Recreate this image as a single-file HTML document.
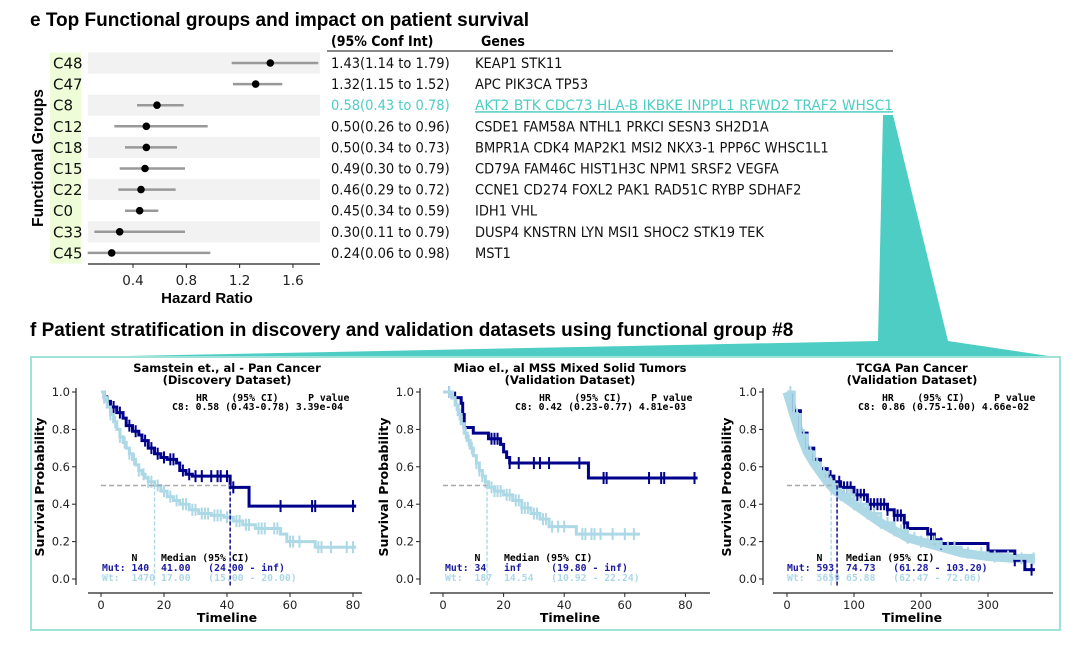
<!DOCTYPE html>
<html><head><meta charset="utf-8">
<style>
html,body{margin:0;padding:0;background:#fff;}
svg{display:block;}
.t{font-family:"Liberation Sans",sans-serif;}
.c{font-family:"DejaVu Sans Condensed","DejaVu Sans",sans-serif;font-stretch:condensed;}
.d{font-family:"DejaVu Sans",sans-serif;}
.m{font-family:"DejaVu Sans Mono","Liberation Mono",monospace;font-weight:bold;white-space:pre;}
</style></head>
<body>
<svg id="fig" width="1080" height="645" viewBox="0 0 1080 645" xmlns="http://www.w3.org/2000/svg">
<text class="t" x="30" y="26" font-size="19" font-weight="bold">e Top Functional groups and impact on patient survival</text>
<text class="t" x="30" y="336" font-size="19" font-weight="bold">f Patient stratification in discovery and validation datasets using functional group #8</text>
<polygon points="883,115 893,115 948,341 1062,358 30,358 878,341" fill="#4ecdc4"/>
<rect x="31" y="357" width="1029" height="273" fill="#fff" stroke="#9fe3d8" stroke-width="2"/>
<g id="forest"></g>
<g id="table"></g>
<g id="km1"></g>
<g id="km2"></g>
<g id="km3"></g>
</svg>
<script>
const groups=["C48","C47","C8","C12","C18","C15","C22","C0","C33","C45"];
const hr=[1.43,1.32,0.58,0.50,0.50,0.49,0.46,0.45,0.30,0.24];
const lo=[1.14,1.15,0.43,0.26,0.34,0.30,0.29,0.34,0.11,0.06];
const hi=[1.79,1.52,0.78,0.96,0.73,0.79,0.72,0.59,0.79,0.98];
const genes=["KEAP1 STK11","APC PIK3CA TP53","AKT2 BTK CDC73 HLA-B IKBKE INPPL1 RFWD2 TRAF2 WHSC1","CSDE1 FAM58A NTHL1 PRKCI SESN3 SH2D1A","BMPR1A CDK4 MAP2K1 MSI2 NKX3-1 PPP6C WHSC1L1","CD79A FAM46C HIST1H3C NPM1 SRSF2 VEGFA","CCNE1 CD274 FOXL2 PAK1 RAD51C RYBP SDHAF2","IDH1 VHL","DUSP4 KNSTRN LYN MSI1 SHOC2 STK19 TEK","MST1"];
const hrTicks=[0.4,0.8,1.2,1.6];

const k1MutT=[0,1,2,3,5,7,8,10,12,13,15,17,19,21,24,25,27,29,41,47,81];
const k1MutS=[1,0.97,0.95,0.92,0.89,0.86,0.82,0.79,0.77,0.74,0.70,0.67,0.65,0.64,0.62,0.58,0.56,0.55,0.49,0.39,0.39];
const k1MutC=[2,4,6,9,11,14,16,18,20,22,23,26,28,30,32,35,37,38,40,42,57,67,68,80];
const k1WtT=[0,1,2,3,4,5,6,7,8,9,10,11,12,13,14,15,17,19,21,23,25,28,31,35,39,42,45,49,57,59,68,81];
const k1WtS=[1,0.97,0.92,0.88,0.84,0.80,0.76,0.73,0.70,0.67,0.64,0.61,0.58,0.56,0.54,0.52,0.50,0.47,0.44,0.42,0.40,0.37,0.35,0.34,0.33,0.31,0.29,0.27,0.24,0.20,0.17,0.17];
const k1WtC=[1,3,4.5,6,7.5,9,10.5,12,13.5,15,16,18,20,22,24,26,27,29,30,32,33,34,36,37,38,40,41,43,44,46,47,50,51,52,55,56,60,61,63,69,70,73,78,80];

const k2MutT=[0,3,6,6.5,7,10,15,19,20,21,22,48,84];
const k2MutS=[1,0.97,0.94,0.88,0.81,0.78,0.75,0.72,0.68,0.65,0.62,0.54,0.54];
const k2MutC=[2,4,16,17,18,22,25,30,32,35,45,53,54,68,72,73,83];
const k2WtT=[0,3,4,5,6,7,8,9,10,11,12,13,14,15,17,20,23,26,29,32,35,44,65];
const k2WtS=[1,0.97,0.93,0.88,0.83,0.78,0.74,0.70,0.66,0.62,0.58,0.55,0.52,0.49,0.47,0.45,0.42,0.38,0.35,0.32,0.28,0.24,0.24];
const k2WtC=[2,4.5,5.5,7.5,8.5,9.5,11,12,13,14,16,17,18,19,21,22,24,25,26,27,28,30,31,33,34,36,38,40,46,47,49,50,52,56,60,63];

const k3MutT=[0,10,20,30,40,50,60,70,80,100,120,150,160,175,180,210,220,230,300,340,355,370];
const k3MutS=[1,0.90,0.78,0.70,0.64,0.59,0.55,0.52,0.49,0.45,0.40,0.37,0.34,0.30,0.27,0.24,0.21,0.19,0.15,0.10,0.05,0.05];
const k3MutC=[60,65,70,78,85,90,95,100,105,110,115,120,125,130,135,140,145,150,160,165,170,175,180,215,220,230,340,365];
const k3WtT=[0,10,20,30,40,50,60,70,80,100,120,140,160,180,200,230,260,300,340,370];
const k3WtS=[1,0.88,0.77,0.68,0.62,0.57,0.52,0.48,0.45,0.40,0.35,0.30,0.26,0.22,0.20,0.17,0.14,0.12,0.11,0.11];
const k3WtC=[5,10,15,20,25,30,35,40,45,50,55,60,65,70,75,80,85,90,95,100,110,120,130,140,150,160,170,180,190,200,210,220,240,250,270,290,310,330,350,368];

const NS="http://www.w3.org/2000/svg";
function mk(parent,tag,attrs,text){const e=document.createElementNS(NS,tag);for(const k in attrs)e.setAttribute(k,attrs[k]);if(text!==undefined)e.textContent=text;parent.appendChild(e);return e;}

(function(){
  const g=document.getElementById('forest');
  const x=v=>133+(v-0.4)*133.3;
  const y=i=>63+i*21.1;
  mk(g,'rect',{x:50,y:52.5,width:31,height:211,fill:'#eefcd8'});
  groups.forEach((c,i)=>{
    if(i%2===0){const b=mk(g,'rect',{x:88,y:y(i)-10.5,width:232,height:21,fill:'#f2f2f2'});
      
      }
    const l=mk(g,'text',{x:53,y:y(i)+5.5,'font-size':15,class:'d',fill:'#111'},c);
    
    
    const ci=mk(g,'line',{x1:x(lo[i]),x2:Math.min(x(hi[i]),320),y1:y(i),y2:y(i),stroke:'#999',"stroke-width":2.5});
    
    
    const p=mk(g,'circle',{cx:x(hr[i]),cy:y(i),r:3.8,fill:'#000'});
    
    
  });
  mk(g,'line',{x1:88,x2:320,y1:264,y2:264,stroke:'#222','stroke-width':1.2});
  hrTicks.forEach(v=>{
    mk(g,'line',{x1:x(v),x2:x(v),y1:264,y2:268,stroke:'#222'});
    const t=mk(g,'text',{x:x(v),y:285,'font-size':13.5,'text-anchor':'middle',class:'d',fill:'#222'},v.toFixed(1));
    
    
  });
  const xt=mk(g,'text',{x:207,y:303,'font-size':15,'font-weight':'bold','text-anchor':'middle',class:'t'},'Hazard Ratio');
  
  
  const yt=mk(g,'text',{x:0,y:0,'font-size':15.5,'font-weight':'bold','text-anchor':'middle',class:'t',transform:'translate(43,158) rotate(-90)'},'Functional Groups');
  
  
})();

(function(){
  const g=document.getElementById('table');
  mk(g,'text',{x:331,y:46,'font-size':14,'font-weight':'bold',class:'c'},'(95% Conf Int)');
  mk(g,'text',{x:481,y:46,'font-size':14,'font-weight':'bold',class:'c'},'Genes');
  mk(g,'line',{x1:327,x2:893,y1:51,y2:51,stroke:'#888','stroke-width':2});
  groups.forEach((c,i)=>{
    const yy=68+i*21.1;
    const col=i===2?'#4ecdc4':'#111';
    const a=mk(g,'text',{x:331,y:yy,'font-size':14.5,class:'c',fill:col},hr[i].toFixed(2)+'('+lo[i].toFixed(2)+' to '+hi[i].toFixed(2)+')');
    
    
    const attrs={x:475,y:yy,'font-size':14.5,class:'c',fill:col};
    if(i===2){attrs['text-decoration']='underline';attrs.textLength=418;attrs.lengthAdjust='spacingAndGlyphs';}
    const b=mk(g,'text',attrs,genes[i]);
    
    
  });
})();

function km(id,o){
  const g=document.getElementById(id);
  const x=t=>o.x0+t*o.kx;
  const y=s=>579-s*187;
  mk(g,'text',{x:o.cx,y:372,'font-size':11.5,'font-weight':'bold','text-anchor':'middle',class:'d'},o.t1);
  mk(g,'text',{x:o.cx,y:384,'font-size':11.5,'font-weight':'bold','text-anchor':'middle',class:'d'},o.t2);
  mk(g,'line',{x1:o.sx,x2:o.sx,y1:388,y2:585,stroke:'#222','stroke-width':1.2});
  mk(g,'line',{x1:o.bx1,x2:o.bx2,y1:593,y2:593,stroke:'#222','stroke-width':1.2});
  [0,0.2,0.4,0.6,0.8,1.0].forEach(v=>{
    mk(g,'line',{x1:o.sx-4,x2:o.sx,y1:y(v),y2:y(v),stroke:'#222'});
    const t=mk(g,'text',{x:o.sx-6,y:y(v)+4,'font-size':11.5,'text-anchor':'end',class:'d',fill:'#222'},v.toFixed(1));
    
    
  });
  o.xt.forEach(v=>{
    mk(g,'line',{x1:x(v),x2:x(v),y1:593,y2:597,stroke:'#222'});
    const t=mk(g,'text',{x:x(v),y:609,'font-size':11.5,'text-anchor':'middle',class:'d',fill:'#222'},String(v));
    
    
  });
  const xt=mk(g,'text',{x:o.cx,y:622,'font-size':12.5,'font-weight':'bold','text-anchor':'middle',class:'d'},'Timeline');
  
  
  const yt=mk(g,'text',{x:0,y:0,'font-size':12.5,'font-weight':'bold','text-anchor':'middle',class:'d',transform:'translate('+(o.sx-32)+',487) rotate(-90)'},'Survival Probability');
  
  
  function curve(T,S,C,col,w,name){
    let d='M'+x(T[0])+','+y(S[0]);
    for(let i=1;i<T.length;i++){d+='H'+x(T[i])+'V'+y(S[i]);}
    const p=mk(g,'path',{d:d,fill:'none',stroke:col,'stroke-width':w});
    
    
    C.forEach(c=>{
      let s=S[0];for(let i=0;i<T.length;i++){if(T[i]<=c)s=S[i];}
      const m=mk(g,'line',{x1:x(c),x2:x(c),y1:y(s)-6,y2:y(s)+6,stroke:col,'stroke-width':2});
      
      
    });
  }
  if(o.wtw>3){
    let d='M'+x(o.wT[0])+','+y(o.wS[0]);
    for(let i=1;i<o.wT.length;i++){d+='L'+x(o.wT[i])+','+y(o.wS[i]);}
    mk(g,'path',{d:d,fill:'none',stroke:'#add8e6','stroke-width':o.wtw});
  }
  curve(o.mT,o.mS,o.mC,'#00008b',3,'mut');
  curve(o.wT,o.wS,o.wC,'#add8e6',3,'wt');
  const medMax=Math.max(...o.med.map(m=>m[0]));
  mk(g,'line',{x1:x(0),x2:x(medMax),y1:y(0.5),y2:y(0.5),stroke:'#aaa','stroke-width':1.4,'stroke-dasharray':'5,3'});
  o.med.forEach(m=>{
    const l=mk(g,'line',{x1:x(m[0]),x2:x(m[0]),y1:y(0.5),y2:586,stroke:m[1],'stroke-width':1.4,'stroke-dasharray':'4,2'});
    
    
  });
  mk(g,'text',{x:o.ax,y:401,'font-size':9.8,class:'m'},o.a1);
  mk(g,'text',{x:o.ax-24,y:410,'font-size':9.8,class:'m'},o.a2);
  mk(g,'text',{x:o.nx,y:561,'font-size':9.8,class:'m'},'     N    Median (95% CI)');
  mk(g,'text',{x:o.nx,y:571,'font-size':9.8,class:'m',fill:'#1a1aa0'},o.n1);
  mk(g,'text',{x:o.nx,y:581,'font-size':9.8,class:'m',fill:'#add8e6'},o.n2);
}
km('km1',{x0:101,kx:3.15,sx:76,bx1:88,bx2:362,cx:227,t1:'Samstein et., al - Pan Cancer',t2:'(Discovery Dataset)',xt:[0,20,40,60,80],
  mT:k1MutT,mS:k1MutS,mC:k1MutC,wT:k1WtT,wS:k1WtS,wC:k1WtC,wtw:0,med:[[17,'#add8e6'],[41,'#00008b']],
  ax:196,a1:'HR    (95% CI)     P value',a2:'C8: 0.58 (0.43-0.78) 3.39e-04',nx:102,
  n1:'Mut: 140  41.00   (24.00 - inf)',n2:'Wt:  1470 17.00   (15.00 - 20.00)'});
km('km2',{x0:443,kx:3.03,sx:420,bx1:430,bx2:710,cx:570,t1:'Miao el., al MSS Mixed Solid Tumors',t2:'(Validation Dataset)',xt:[0,20,40,60,80],
  mT:k2MutT,mS:k2MutS,mC:k2MutC,wT:k2WtT,wS:k2WtS,wC:k2WtC,wtw:0,med:[[14.54,'#add8e6']],
  ax:539,a1:'HR    (95% CI)     P value',a2:'C8: 0.42 (0.23-0.77) 4.81e-03',nx:445,
  n1:'Mut: 34   inf     (19.80 - inf)',n2:'Wt:  187  14.54   (10.92 - 22.24)'});
km('km3',{x0:787,kx:0.67,sx:763,bx1:773,bx2:1053,cx:912,t1:'TCGA Pan Cancer',t2:'(Validation Dataset)',xt:[0,100,200,300],
  mT:k3MutT,mS:k3MutS,mC:k3MutC,wT:k3WtT,wS:k3WtS,wC:k3WtC,wtw:9,med:[[65.88,'#add8e6'],[74.73,'#00008b']],
  ax:882,a1:'HR    (95% CI)     P value',a2:'C8: 0.86 (0.75-1.00) 4.66e-02',nx:787,
  n1:'Mut: 593  74.73   (61.28 - 103.20)',n2:'Wt:  5659 65.88   (62.47 - 72.06)'});
</script>
</body></html>
